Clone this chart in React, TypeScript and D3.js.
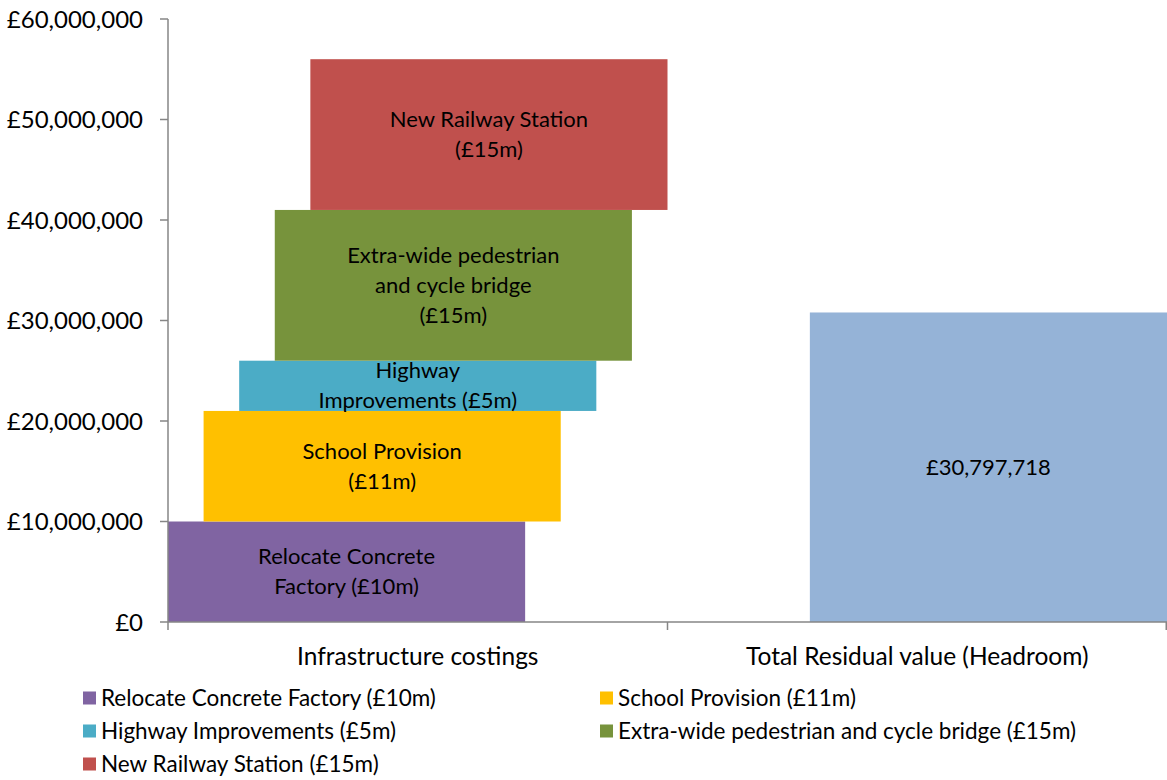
import React from "react";
import * as d3 from "d3";

const categories = ["Infrastructure costings", "Total Residual value (Headroom)"];

// floating bars in the first category: base and height
const itemNames = [
  "Relocate Concrete Factory (£10m)",
  "School Provision (£11m)",
  "Highway Improvements (£5m)",
  "Extra-wide pedestrian and cycle bridge (£15m)",
  "New Railway Station (£15m)",
];
const itemLabels = [
  ["Relocate Concrete", "Factory (£10m)"],
  ["School Provision", "(£11m)"],
  ["Highway", "Improvements (£5m)"],
  ["Extra-wide pedestrian", "and cycle bridge", "(£15m)"],
  ["New Railway Station", "(£15m)"],
];
const itemBase = [0, 10000000, 21000000, 26000000, 41000000];
const itemValue = [10000000, 11000000, 5000000, 15000000, 15000000];
const itemColors = ["#8064A2", "#FFC000", "#4BACC6", "#77933C", "#C0504D"];

const residualValue = 30797718;
const residualColor = "#95B3D7";

const yTicks = [0, 10000000, 20000000, 30000000, 40000000, 50000000, 60000000];

const W = 1167;
const H = 780;
const FONT = "Lato, 'Open Sans', sans-serif";

const App: React.FC = () => {
  const x0 = 168;
  const x1 = 1167;
  const yTop = 19;
  const yBottom = 622;

  const y = d3.scaleLinear().domain([0, 60000000]).range([yBottom, yTop]);
  const xBand = d3.scaleBand<string>().domain(categories).range([x0, x1]).padding(0);
  const band = xBand.bandwidth();
  const barW = band * 0.715;
  // overlapping series are shifted step by step inside a band
  const offset = d3.scaleLinear().domain([0, 4]).range([0, band - barW]);

  const fmt = (v: number) => "£" + d3.format(",")(v);
  const axisColor = "#868686";

  const resX = xBand(categories[1])! + offset(4);
  const resTop = y(residualValue);

  return (
    <svg
      width={W}
      height={H}
      style={{ position: "absolute", left: 0, top: 0, background: "#fff" }}
      fontFamily={FONT}
    >
      {itemValue.map((v, i) => {
        const bx = xBand(categories[0])! + offset(i);
        const top = y(itemBase[i] + v);
        const bot = y(itemBase[i]);
        const cy = (top + bot) / 2;
        const lines = itemLabels[i];
        return (
          <g key={i}>
            <rect x={bx} y={top} width={barW} height={bot - top} fill={itemColors[i]} />
            <text textAnchor="middle" fontSize={22} fill="#000">
              {lines.map((t, j) => (
                <tspan key={j} x={bx + barW / 2} y={cy + (j - (lines.length - 1) / 2) * 30 + 7.5}>
                  {t}
                </tspan>
              ))}
            </text>
          </g>
        );
      })}

      <rect x={resX} y={resTop} width={barW} height={y(0) - resTop} fill={residualColor} />
      <text x={resX + barW / 2} y={(resTop + y(0)) / 2 + 7.5} textAnchor="middle" fontSize={22}>
        {fmt(residualValue)}
      </text>

      {/* y axis */}
      <line x1={x0} x2={x0} y1={yTop} y2={yBottom} stroke={axisColor} strokeWidth={1.5} />
      {yTicks.map((t) => (
        <g key={t}>
          <line x1={x0 - 8} x2={x0} y1={y(t)} y2={y(t)} stroke={axisColor} strokeWidth={1.5} />
          <text x={143} y={y(t) + 8.5} textAnchor="end" fontSize={24} fill="#000">
            {fmt(t)}
          </text>
        </g>
      ))}

      {/* x axis */}
      <line x1={x0} x2={x1} y1={yBottom} y2={yBottom} stroke={axisColor} strokeWidth={1.5} />
      {[x0, x0 + band, x1 - 0.75].map((tx, i) => (
        <line key={i} x1={tx} x2={tx} y1={yBottom} y2={yBottom + 8} stroke={axisColor} strokeWidth={1.5} />
      ))}
      {categories.map((c) => (
        <text key={c} x={xBand(c)! + band / 2} y={665} textAnchor="middle" fontSize={24.5} fill="#000">
          {c}
        </text>
      ))}

      {/* legend */}
      {itemNames.map((n, i) => {
        const col = i % 2;
        const row = Math.floor(i / 2);
        const lx = col === 0 ? 83 : 600;
        const ly = 698 + row * 33;
        return (
          <g key={n}>
            <rect x={lx} y={ly - 6.5} width={13} height={13} fill={itemColors[i]} />
            <text x={lx + 18} y={ly + 8} fontSize={22.5} fill="#000">
              {n}
            </text>
          </g>
        );
      })}
    </svg>
  );
};

export default App;
